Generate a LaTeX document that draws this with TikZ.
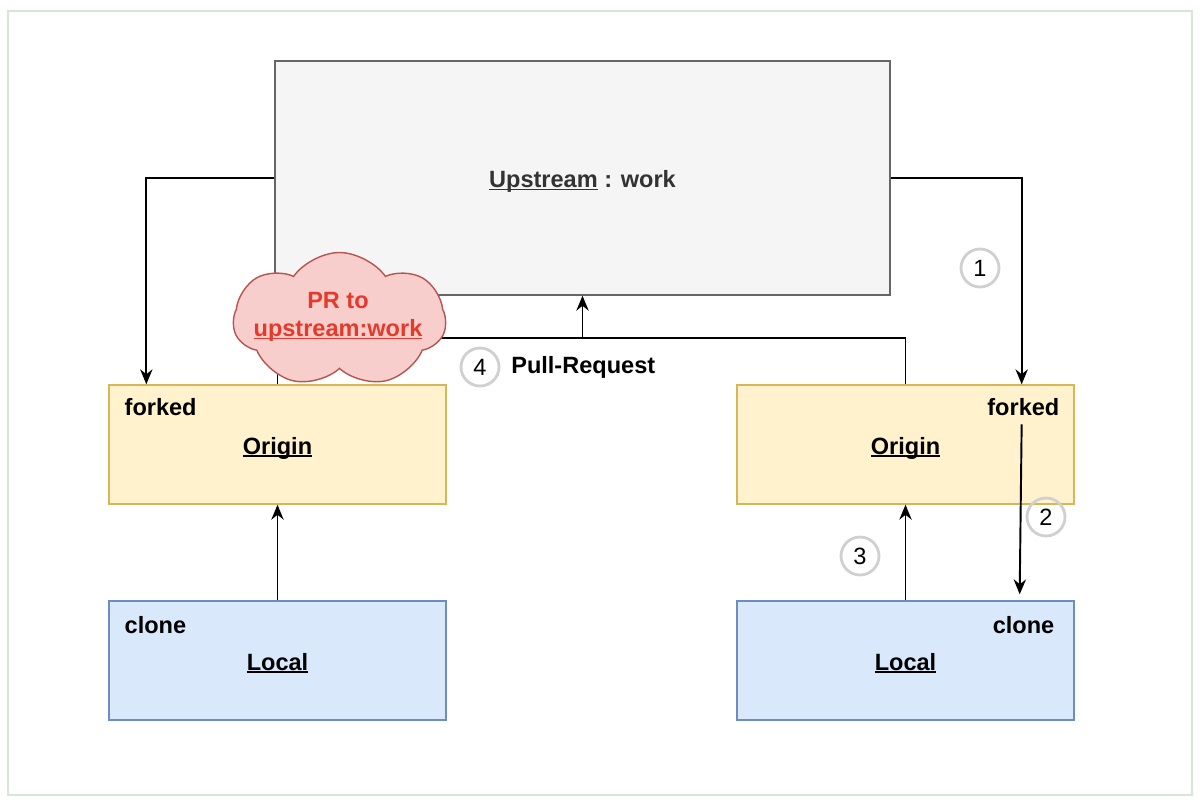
\documentclass[tikz,border=0pt]{standalone}
\usepackage{fontspec}
\setmainfont{Liberation Sans}
\usepackage{xcolor}
\usetikzlibrary{arrows.meta,positioning,calc,shapes.symbols}
\definecolor{frameline}{HTML}{D5E8D4}
\definecolor{upfill}{HTML}{F5F5F5}
\definecolor{updraw}{HTML}{666666}
\definecolor{uptext}{HTML}{333333}
\definecolor{orfill}{HTML}{FFF2CC}
\definecolor{ordraw}{HTML}{D6B656}
\definecolor{lcfill}{HTML}{DAE8FC}
\definecolor{lcdraw}{HTML}{6C8EBF}
\definecolor{prfill}{HTML}{F8CECC}
\definecolor{prdraw}{HTML}{B85450}
\definecolor{prtext}{HTML}{E5392B}
\definecolor{numring}{HTML}{D0D0D0}
\newcommand{\ulbox}[1]{\setbox0\hbox{#1}\rlap{\rule[-1.6pt]{\wd0}{0.9pt}}\box0\relax}

\begin{document}
\begin{tikzpicture}[x=0.02cm,y=-0.02cm,>={Stealth[length=8.5pt,width=7pt]},
  font=\bfseries\fontsize{13.4}{15.6}\selectfont,
  box/.style={draw,line width=0.8pt,minimum width=6.74cm,minimum height=2.38cm,inner sep=0pt,
    text height=11pt,text depth=0pt},
  originbox/.style={box,fill=orfill,draw=ordraw},
  localbox/.style={box,fill=lcfill,draw=lcdraw},
  tag/.style={inner sep=0pt},
  stepnum/.style={circle,draw=numring,line width=1.6pt,minimum size=0.76cm,inner sep=0pt,
    font=\mdseries\fontsize{13.4}{15}\selectfont},
  link/.style={->,line width=1.1pt}]
  \useasboundingbox (0,0) rectangle (1200,802);
  \draw[frameline,line width=1pt] (8,11) rectangle (1192,795);

  % boxes
  \node[box,fill=upfill,draw=updraw,minimum width=12.3cm,minimum height=4.68cm,text=uptext]
    (up) at (582.5,178) {\ulbox{Upstream} : work};
  \node[originbox] (oL) at (277.5,444.5) {\ulbox{Origin}};
  \node[originbox] (oR) at (905.5,444.5) {\ulbox{Origin}};
  \node[localbox] (lL) at (277.5,660.5) {\ulbox{Local}};
  \node[localbox] (lR) at (905.5,660.5) {\ulbox{Local}};

  \node[tag,anchor=west] (fkL) at ($(oL.north west)+(16,23)$) {forked};
  \node[tag,anchor=east] (fkR) at ($(oR.north east)+(-15,23)$) {forked};
  \node[tag,anchor=west] (clL) at ($(lL.north west)+(16,25)$) {clone};
  \node[tag,anchor=east] (clR) at ($(lR.north east)+(-20,25)$) {clone};

  % connectors
  \draw[link] (up.west) -| ($(oL.north west)+(38,0)$);
  \draw[link] (up.east) -| ($(oR.north east)+(-53,0)$);
  \coordinate (pr) at (582.5,338);
  \draw[line width=1.1pt] (oL.north) |- (pr) -| (oR.north);
  \draw[link] (pr) -- (up.south);
  \coordinate (cloneA) at ($(oR.north east)+(-53,40)$);
  \coordinate (cloneB) at ($(lR.north east)+(-55,-6)$);
  \draw[link] (cloneA) -- (cloneB);
  \draw[link] (lR.north) -- (oR.south);
  \draw[link] (lL.north) -- (oL.south);

  % PR note
  \node[cloud,cloud puffs=7,cloud puff arc=110,aspect=1.6,draw=prdraw,fill=prfill,line width=0.8pt,
    minimum width=4.25cm,minimum height=2.7cm,inner sep=0pt] (prcloud) at (339.5,320) {};
  \node[text=prtext,align=center,inner sep=0pt] (prtxt) at (338,317)
    {PR to\\\ulbox{upstream:work}};

  % steps
  \node[stepnum] (s1) at (980,268) {1};
  \node[stepnum] (s2) at (1046,517) {2};
  \node[stepnum] (s3) at (860,556) {3};
  \node[stepnum] (s4) at (480,367) {4};
  \node[tag,right=6pt of s4] (prlbl) {Pull-Request};
\end{tikzpicture}
\end{document}
